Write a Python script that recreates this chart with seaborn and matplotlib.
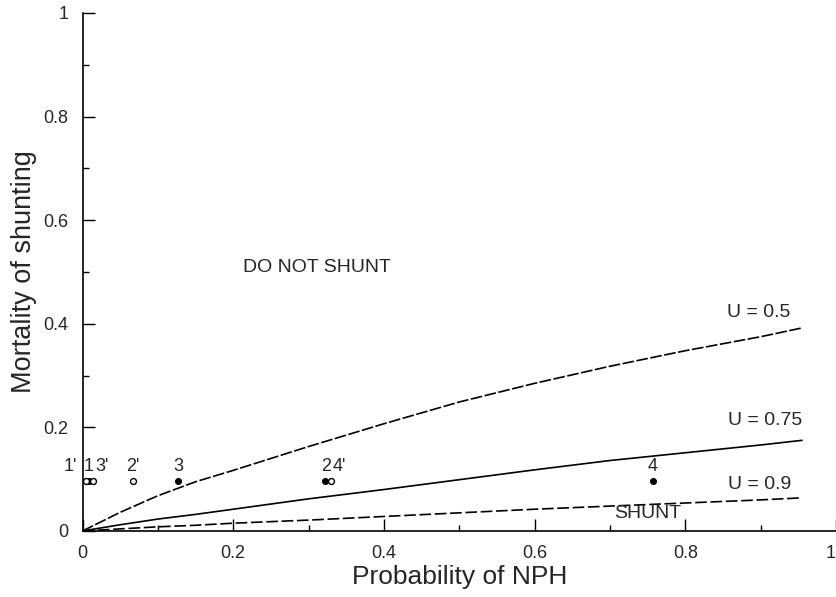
import numpy as np
import pandas as pd
import matplotlib
matplotlib.use('Agg')
import matplotlib.pyplot as plt
import seaborn as sns
from matplotlib.ticker import MultipleLocator, FixedLocator, FixedFormatter

# DATA
p_nph = [0, 0.05, 0.1, 0.15, 0.2, 0.3, 0.4, 0.5, 0.6, 0.7, 0.8, 0.9, 0.955]
mort_u050 = [0, 0.036, 0.068, 0.095, 0.117, 0.163, 0.207, 0.249, 0.285, 0.318, 0.348, 0.375, 0.392]
mort_u075 = [0, 0.012, 0.023, 0.032, 0.042, 0.062, 0.080, 0.099, 0.118, 0.136, 0.151, 0.166, 0.175]
mort_u090 = [0, 0.004, 0.008, 0.011, 0.015, 0.021, 0.028, 0.035, 0.042, 0.048, 0.054, 0.060, 0.064]
curve_labels = ['U = 0.5', 'U = 0.75', 'U = 0.9']

point_names = ["1'", '1', "3'", "2'", '3', '2', "4'", '4']
point_p = [0.004, 0.009, 0.014, 0.067, 0.127, 0.322, 0.330, 0.757]
point_mort = [0.097, 0.097, 0.097, 0.097, 0.097, 0.097, 0.097, 0.097]
point_filled = [False, True, False, False, True, True, False, True]

x_ticks = [0, 0.2, 0.4, 0.6, 0.8, 1]
x_tick_labels = ['0', '0.2', '0.4', '0.6', '0.8', '1']
y_ticks = [0, 0.2, 0.4, 0.6, 0.8, 1]
y_tick_labels = ['0', '0.2', '0.4', '0.6', '0.8', '1']

curves = pd.DataFrame({
    'p': p_nph * 3,
    'mortality': mort_u050 + mort_u075 + mort_u090,
    'U': [curve_labels[0]] * len(p_nph)
         + [curve_labels[1]] * len(p_nph)
         + [curve_labels[2]] * len(p_nph),
})

points = pd.DataFrame({
    'name': point_names,
    'p': point_p,
    'mortality': point_mort,
    'filled': point_filled,
})

# STYLE
sns.set_style('ticks')
plt.rcParams['font.family'] = ['Liberation Sans', 'DejaVu Sans']

fig = plt.figure(figsize=(8.36, 5.97), dpi=100)
ax = fig.add_axes([0.0987, 0.1106, 0.9013, 0.8677])

sns.lineplot(
    data=curves,
    x='p',
    y='mortality',
    hue='U',
    style='U',
    palette={k: 'black' for k in curve_labels},
    dashes={
        curve_labels[0]: (7, 1.5),
        curve_labels[1]: '',
        curve_labels[2]: (7, 2.2),
    },
    linewidth=1.2,
    legend=False,
    ax=ax
)

sns.scatterplot(
    data=points[points['filled']],
    x='p',
    y='mortality',
    color='black',
    edgecolor='black',
    s=18,
    linewidth=0.8,
    legend=False,
    ax=ax,
    clip_on=False
)

sns.scatterplot(
    data=points[~points['filled']],
    x='p',
    y='mortality',
    facecolor='white',
    edgecolor='black',
    s=18,
    linewidth=1.0,
    legend=False,
    ax=ax,
    clip_on=False
)

# point labels, horizontal nudges for the crowded ones
label_dx = {"1'": -11, '1': -0.5, "3'": 6.5, "2'": 0, '3': 0, '2': 0.5, "4'": 6, '4': 0}
for _, row in points.iterrows():
    ax.annotate(
        row['name'],
        (row['p'], row['mortality']),
        xytext=(label_dx[row['name']], 10),
        textcoords='offset points',
        ha='center',
        va='center',
        fontsize=13
    )

# curve labels and region labels
ax.text(0.856, 0.422, curve_labels[0], fontsize=14, va='center', ha='left')
ax.text(0.857, 0.213, curve_labels[1], fontsize=14, va='center', ha='left')
ax.text(0.857, 0.090, curve_labels[2], fontsize=14, va='center', ha='left')
ax.text(0.311, 0.508, 'DO NOT SHUNT', fontsize=14, va='center', ha='center')
ax.text(0.706, 0.033, 'SHUNT', fontsize=14, va='center', ha='left')

ax.set_xlim(0, 1)
ax.set_ylim(0, 1)

ax.xaxis.set_major_locator(FixedLocator(x_ticks))
ax.xaxis.set_major_formatter(FixedFormatter(x_tick_labels))
ax.yaxis.set_major_locator(FixedLocator(y_ticks))
ax.yaxis.set_major_formatter(FixedFormatter(y_tick_labels))
ax.xaxis.set_minor_locator(MultipleLocator(0.1))
ax.yaxis.set_minor_locator(MultipleLocator(0.1))

ax.tick_params(which='major', direction='in', length=8.5, width=1.0,
               labelsize=13, color='black')
ax.tick_params(which='minor', direction='in', length=4.5, width=1.0,
               color='black')
ax.tick_params(axis='x', which='major', pad=10)
ax.tick_params(axis='y', which='major', pad=10)

# the last x label sits on the figure edge: keep it inside
fig.canvas.draw()
ax.get_xticklabels()[-1].set_horizontalalignment('right')

sns.despine(ax=ax)
for side in ['left', 'bottom']:
    ax.spines[side].set_color('black')
    ax.spines[side].set_linewidth(1.2)

ax.set_xlabel('Probability of NPH', fontsize=19, labelpad=2)
ax.set_ylabel('Mortality of shunting', fontsize=19.5, labelpad=5)

fig.savefig('out.png', dpi=100)
